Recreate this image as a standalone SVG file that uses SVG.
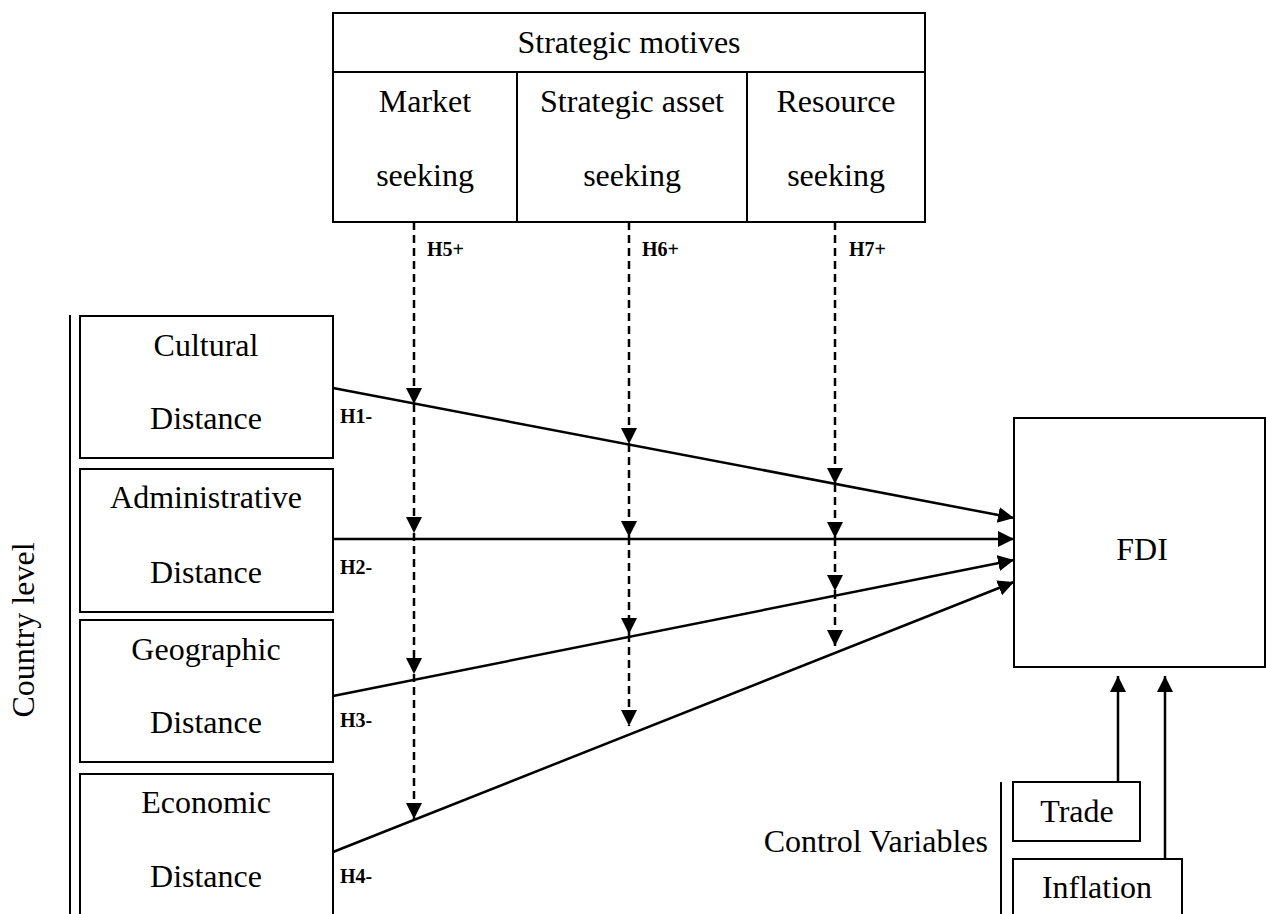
<svg xmlns="http://www.w3.org/2000/svg" width="1266" height="914" viewBox="0 0 1266 914">
<style>
  .box{fill:#fff;stroke:#000;stroke-width:2}
  .t{font-family:"Liberation Serif","Times New Roman",serif;font-size:32px;fill:#000;text-anchor:middle}
  .h{font-family:"Liberation Serif","Times New Roman",serif;font-size:20px;font-weight:bold;fill:#000}
  .ln{stroke:#000;stroke-width:2;fill:none}
  .solid{stroke:#000;stroke-width:2.5;fill:none;marker-end:url(#ah)}
  .dash{stroke:#000;stroke-width:2.5;fill:none;stroke-dasharray:8 5;marker-end:url(#ah)}
</style>
<defs>
  <marker id="ah" markerUnits="userSpaceOnUse" markerWidth="18" markerHeight="18" refX="16" refY="8" orient="auto">
    <path d="M0,0 L16,8 L0,16 z" fill="#000"/>
  </marker>
</defs>
<rect width="1266" height="914" fill="#fff"/>

<g id="strategic-motives">
  <rect class="box" x="333" y="13" width="592" height="209"/>
  <line class="ln" x1="333" y1="72" x2="925" y2="72"/>
  <line class="ln" x1="517" y1="72" x2="517" y2="222"/>
  <line class="ln" x1="747" y1="72" x2="747" y2="222"/>
  <text class="t" x="629" y="53">Strategic motives</text>
</g>
<g id="market-seeking">
  <text class="t" x="425" y="112">Market</text>
  <text class="t" x="425" y="186">seeking</text>
</g>
<g id="strategic-asset-seeking">
  <text class="t" x="632" y="112">Strategic asset</text>
  <text class="t" x="632" y="186">seeking</text>
</g>
<g id="resource-seeking">
  <text class="t" x="836" y="112">Resource</text>
  <text class="t" x="836" y="186">seeking</text>
</g>

<g id="country-level">
  <line class="ln" x1="70" y1="315" x2="70" y2="914"/>
  <text class="t" transform="translate(34,630) rotate(-90)">Country level</text>
</g>
<g id="cultural">
  <rect class="box" x="80" y="316" width="253" height="142"/>
  <text class="t" x="206" y="356">Cultural</text>
  <text class="t" x="206" y="429">Distance</text>
</g>
<g id="administrative">
  <rect class="box" x="80" y="469" width="253" height="143"/>
  <text class="t" x="206" y="508">Administrative</text>
  <text class="t" x="206" y="583">Distance</text>
</g>
<g id="geographic">
  <rect class="box" x="80" y="620" width="253" height="142"/>
  <text class="t" x="206" y="660">Geographic</text>
  <text class="t" x="206" y="733">Distance</text>
</g>
<g id="economic">
  <rect class="box" x="80" y="774" width="253" height="150"/>
  <text class="t" x="206" y="813">Economic</text>
  <text class="t" x="206" y="887">Distance</text>
</g>

<g id="fdi">
  <rect class="box" x="1014" y="418" width="251" height="249"/>
  <text class="t" x="1142" y="560">FDI</text>
</g>

<g id="control-variables">
  <line class="ln" x1="1001" y1="782" x2="1001" y2="914"/>
  <text class="t" x="988" y="852" style="text-anchor:end">Control Variables</text>
</g>
<g id="trade">
  <rect class="box" x="1013" y="782" width="127" height="59"/>
  <text class="t" x="1077" y="822">Trade</text>
</g>
<g id="inflation">
  <rect class="box" x="1013" y="859" width="169" height="70"/>
  <text class="t" x="1097" y="898">Inflation</text>
</g>

<g id="connectors">
  <line class="solid" x1="333" y1="388" x2="1014" y2="518"/>
  <line class="solid" x1="333" y1="539" x2="1014" y2="539"/>
  <line class="solid" x1="333" y1="696" x2="1014" y2="560"/>
  <line class="solid" x1="333" y1="852" x2="1014" y2="582"/>

  <line class="dash" x1="414" y1="222" x2="414" y2="404"/>
  <line class="dash" x1="414" y1="404" x2="414" y2="533"/>
  <line class="dash" x1="414" y1="533" x2="414" y2="674"/>
  <line class="dash" x1="414" y1="674" x2="414" y2="819"/>

  <line class="dash" x1="629" y1="222" x2="629" y2="444"/>
  <line class="dash" x1="629" y1="444" x2="629" y2="537"/>
  <line class="dash" x1="629" y1="537" x2="629" y2="634"/>
  <line class="dash" x1="629" y1="634" x2="629" y2="726"/>

  <line class="dash" x1="835" y1="222" x2="835" y2="484"/>
  <line class="dash" x1="835" y1="484" x2="835" y2="538"/>
  <line class="dash" x1="835" y1="538" x2="835" y2="591"/>
  <line class="dash" x1="835" y1="591" x2="835" y2="646"/>

  <line class="solid" x1="1118" y1="782" x2="1118" y2="676"/>
  <line class="solid" x1="1165" y1="859" x2="1165" y2="676"/>

  <text class="h" x="427" y="256">H5+</text>
  <text class="h" x="642" y="256">H6+</text>
  <text class="h" x="849" y="256">H7+</text>
  <text class="h" x="340" y="423">H1-</text>
  <text class="h" x="340" y="574">H2-</text>
  <text class="h" x="340" y="727">H3-</text>
  <text class="h" x="340" y="883">H4-</text>
</g>
</svg>
